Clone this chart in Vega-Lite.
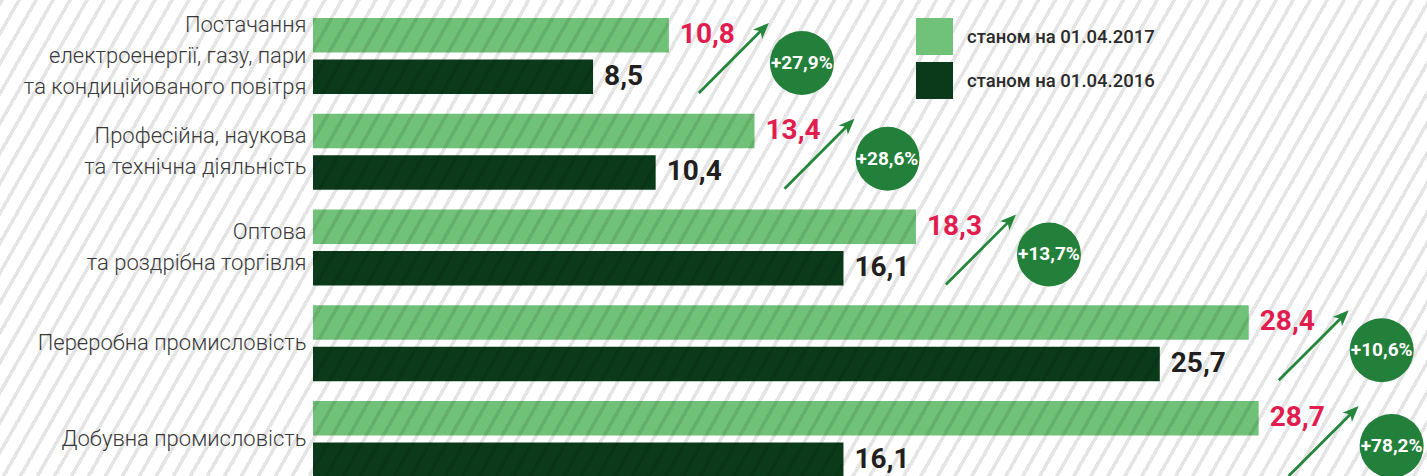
{
  "$schema": "https://vega.github.io/schema/vega-lite/v6.json",
  "width": 1427,
  "height": 479,
  "autosize": "none",
  "padding": 0,
  "background": "#ffffff",
  "config": {
    "view": {"stroke": null},
    "locale": {"number": {"decimal": ",", "thousands": " ", "grouping": [3], "currency": ["", ""]}}
  },
  "datasets": {
    "bars": [
      {"category": "Постачання\nелектроенергії, газу, пари\nта кондиційованого повітря", "series": "станом на 01.04.2017", "value": 10.8},
      {"category": "Постачання\nелектроенергії, газу, пари\nта кондиційованого повітря", "series": "станом на 01.04.2016", "value": 8.5},
      {"category": "Професійна, наукова\nта технічна діяльність", "series": "станом на 01.04.2017", "value": 13.4},
      {"category": "Професійна, наукова\nта технічна діяльність", "series": "станом на 01.04.2016", "value": 10.4},
      {"category": "Оптова\nта роздрібна торгівля", "series": "станом на 01.04.2017", "value": 18.3},
      {"category": "Оптова\nта роздрібна торгівля", "series": "станом на 01.04.2016", "value": 16.1},
      {"category": "Переробна промисловість", "series": "станом на 01.04.2017", "value": 28.4},
      {"category": "Переробна промисловість", "series": "станом на 01.04.2016", "value": 25.7},
      {"category": "Добувна промисловість", "series": "станом на 01.04.2017", "value": 28.7},
      {"category": "Добувна промисловість", "series": "станом на 01.04.2016", "value": 16.1}
    ],
    "changes": [
      {"category": "Постачання\nелектроенергії, газу, пари\nта кондиційованого повітря", "v2017": 10.8, "change": 0.279},
      {"category": "Професійна, наукова\nта технічна діяльність", "v2017": 13.4, "change": 0.286},
      {"category": "Оптова\nта роздрібна торгівля", "v2017": 18.3, "change": 0.137},
      {"category": "Переробна промисловість", "v2017": 28.4, "change": 0.106},
      {"category": "Добувна промисловість", "v2017": 28.7, "change": 0.782}
    ]
  },
  "layer": [
    {
      "data": {"name": "bars"},
      "mark": {"type": "bar"},
      "encoding": {
        "y": {
          "field": "category", "type": "nominal", "sort": null,
          "scale": {
            "domain": ["Постачання\nелектроенергії, газу, пари\nта кондиційованого повітря", "Професійна, наукова\nта технічна діяльність", "Оптова\nта роздрібна торгівля", "Переробна промисловість", "Добувна промисловість"],
            "paddingInner": 0.206, "paddingOuter": 0.104, "align": 0.9
          },
          "axis": {
            "title": null, "ticks": false, "domain": false, "grid": false, "offset": -306, "labelPadding": 0,
            "labelExpr": "split(datum.label, '\\n')",
            "labelOffset": {"condition": [{"test": "length(split(datum.value, '\\n')) === 3", "value": -31}, {"test": "length(split(datum.value, '\\n')) === 2", "value": -15.5}], "value": 0},
            "labelFont": "Roboto", "labelFontWeight": 300, "labelFontSize": 22, "labelColor": "#3a3a3a",
            "labelLineHeight": 31, "labelLimit": 400, "labelAlign": "right", "labelBaseline": "middle"
          }
        },
        "yOffset": {
          "field": "series", "type": "nominal", "sort": null,
          "scale": {"domain": ["станом на 01.04.2017", "станом на 01.04.2016"], "paddingInner": 0.17, "paddingOuter": 0}
        },
        "x": {
          "field": "value", "type": "quantitative",
          "scale": {"domain": [0, 33.81], "range": [313, 1427], "nice": false, "zero": true},
          "axis": null
        },
        "color": {
          "field": "series", "type": "nominal",
          "scale": {"domain": ["станом на 01.04.2017", "станом на 01.04.2016"], "range": ["#70c278", "#0b3a1b"]},
          "legend": {
            "title": null, "orient": "none", "legendX": 916, "legendY": 18, "padding": 0,
            "symbolType": "square", "symbolSize": 1369, "symbolStrokeWidth": 0, "symbolOpacity": 1,
            "labelFont": "Roboto", "labelFontSize": 18.5, "labelFontWeight": 500, "labelColor": "#2b2b2b", "labelOffset": 14,
            "rowPadding": 7, "labelLimit": 400
          }
        }
      }
    },
    {
      "data": {"values": [{}]},
      "mark": {
        "type": "rect",
        "fill": {
          "gradient": "linear", "x1": 0, "y1": 0, "x2": 1.1488, "y2": 0.219,
          "stops": [
{"offset":0,"color":"rgba(0,0,0,0.1)"},{"offset":0.0024,"color":"rgba(0,0,0,0.1)"},{"offset":0.0024,"color":"rgba(0,0,0,0)"},{"offset":0.01,"color":"rgba(0,0,0,0)"},
{"offset":0.01,"color":"rgba(0,0,0,0.1)"},{"offset":0.0124,"color":"rgba(0,0,0,0.1)"},{"offset":0.0124,"color":"rgba(0,0,0,0)"},{"offset":0.02,"color":"rgba(0,0,0,0)"},
{"offset":0.02,"color":"rgba(0,0,0,0.1)"},{"offset":0.0224,"color":"rgba(0,0,0,0.1)"},{"offset":0.0224,"color":"rgba(0,0,0,0)"},{"offset":0.03,"color":"rgba(0,0,0,0)"},
{"offset":0.03,"color":"rgba(0,0,0,0.1)"},{"offset":0.0324,"color":"rgba(0,0,0,0.1)"},{"offset":0.0324,"color":"rgba(0,0,0,0)"},{"offset":0.04,"color":"rgba(0,0,0,0)"},
{"offset":0.04,"color":"rgba(0,0,0,0.1)"},{"offset":0.0424,"color":"rgba(0,0,0,0.1)"},{"offset":0.0424,"color":"rgba(0,0,0,0)"},{"offset":0.05,"color":"rgba(0,0,0,0)"},
{"offset":0.05,"color":"rgba(0,0,0,0.1)"},{"offset":0.0524,"color":"rgba(0,0,0,0.1)"},{"offset":0.0524,"color":"rgba(0,0,0,0)"},{"offset":0.06,"color":"rgba(0,0,0,0)"},
{"offset":0.06,"color":"rgba(0,0,0,0.1)"},{"offset":0.0624,"color":"rgba(0,0,0,0.1)"},{"offset":0.0624,"color":"rgba(0,0,0,0)"},{"offset":0.07,"color":"rgba(0,0,0,0)"},
{"offset":0.07,"color":"rgba(0,0,0,0.1)"},{"offset":0.0724,"color":"rgba(0,0,0,0.1)"},{"offset":0.0724,"color":"rgba(0,0,0,0)"},{"offset":0.08,"color":"rgba(0,0,0,0)"},
{"offset":0.08,"color":"rgba(0,0,0,0.1)"},{"offset":0.0824,"color":"rgba(0,0,0,0.1)"},{"offset":0.0824,"color":"rgba(0,0,0,0)"},{"offset":0.09,"color":"rgba(0,0,0,0)"},
{"offset":0.09,"color":"rgba(0,0,0,0.1)"},{"offset":0.0924,"color":"rgba(0,0,0,0.1)"},{"offset":0.0924,"color":"rgba(0,0,0,0)"},{"offset":0.10,"color":"rgba(0,0,0,0)"},
{"offset":0.10,"color":"rgba(0,0,0,0.1)"},{"offset":0.1024,"color":"rgba(0,0,0,0.1)"},{"offset":0.1024,"color":"rgba(0,0,0,0)"},{"offset":0.11,"color":"rgba(0,0,0,0)"},
{"offset":0.11,"color":"rgba(0,0,0,0.1)"},{"offset":0.1124,"color":"rgba(0,0,0,0.1)"},{"offset":0.1124,"color":"rgba(0,0,0,0)"},{"offset":0.12,"color":"rgba(0,0,0,0)"},
{"offset":0.12,"color":"rgba(0,0,0,0.1)"},{"offset":0.1224,"color":"rgba(0,0,0,0.1)"},{"offset":0.1224,"color":"rgba(0,0,0,0)"},{"offset":0.13,"color":"rgba(0,0,0,0)"},
{"offset":0.13,"color":"rgba(0,0,0,0.1)"},{"offset":0.1324,"color":"rgba(0,0,0,0.1)"},{"offset":0.1324,"color":"rgba(0,0,0,0)"},{"offset":0.14,"color":"rgba(0,0,0,0)"},
{"offset":0.14,"color":"rgba(0,0,0,0.1)"},{"offset":0.1424,"color":"rgba(0,0,0,0.1)"},{"offset":0.1424,"color":"rgba(0,0,0,0)"},{"offset":0.15,"color":"rgba(0,0,0,0)"},
{"offset":0.15,"color":"rgba(0,0,0,0.1)"},{"offset":0.1524,"color":"rgba(0,0,0,0.1)"},{"offset":0.1524,"color":"rgba(0,0,0,0)"},{"offset":0.16,"color":"rgba(0,0,0,0)"},
{"offset":0.16,"color":"rgba(0,0,0,0.1)"},{"offset":0.1624,"color":"rgba(0,0,0,0.1)"},{"offset":0.1624,"color":"rgba(0,0,0,0)"},{"offset":0.17,"color":"rgba(0,0,0,0)"},
{"offset":0.17,"color":"rgba(0,0,0,0.1)"},{"offset":0.1724,"color":"rgba(0,0,0,0.1)"},{"offset":0.1724,"color":"rgba(0,0,0,0)"},{"offset":0.18,"color":"rgba(0,0,0,0)"},
{"offset":0.18,"color":"rgba(0,0,0,0.1)"},{"offset":0.1824,"color":"rgba(0,0,0,0.1)"},{"offset":0.1824,"color":"rgba(0,0,0,0)"},{"offset":0.19,"color":"rgba(0,0,0,0)"},
{"offset":0.19,"color":"rgba(0,0,0,0.1)"},{"offset":0.1924,"color":"rgba(0,0,0,0.1)"},{"offset":0.1924,"color":"rgba(0,0,0,0)"},{"offset":0.20,"color":"rgba(0,0,0,0)"},
{"offset":0.20,"color":"rgba(0,0,0,0.1)"},{"offset":0.2024,"color":"rgba(0,0,0,0.1)"},{"offset":0.2024,"color":"rgba(0,0,0,0)"},{"offset":0.21,"color":"rgba(0,0,0,0)"},
{"offset":0.21,"color":"rgba(0,0,0,0.1)"},{"offset":0.2124,"color":"rgba(0,0,0,0.1)"},{"offset":0.2124,"color":"rgba(0,0,0,0)"},{"offset":0.22,"color":"rgba(0,0,0,0)"},
{"offset":0.22,"color":"rgba(0,0,0,0.1)"},{"offset":0.2224,"color":"rgba(0,0,0,0.1)"},{"offset":0.2224,"color":"rgba(0,0,0,0)"},{"offset":0.23,"color":"rgba(0,0,0,0)"},
{"offset":0.23,"color":"rgba(0,0,0,0.1)"},{"offset":0.2324,"color":"rgba(0,0,0,0.1)"},{"offset":0.2324,"color":"rgba(0,0,0,0)"},{"offset":0.24,"color":"rgba(0,0,0,0)"},
{"offset":0.24,"color":"rgba(0,0,0,0.1)"},{"offset":0.2424,"color":"rgba(0,0,0,0.1)"},{"offset":0.2424,"color":"rgba(0,0,0,0)"},{"offset":0.25,"color":"rgba(0,0,0,0)"},
{"offset":0.25,"color":"rgba(0,0,0,0.1)"},{"offset":0.2524,"color":"rgba(0,0,0,0.1)"},{"offset":0.2524,"color":"rgba(0,0,0,0)"},{"offset":0.26,"color":"rgba(0,0,0,0)"},
{"offset":0.26,"color":"rgba(0,0,0,0.1)"},{"offset":0.2624,"color":"rgba(0,0,0,0.1)"},{"offset":0.2624,"color":"rgba(0,0,0,0)"},{"offset":0.27,"color":"rgba(0,0,0,0)"},
{"offset":0.27,"color":"rgba(0,0,0,0.1)"},{"offset":0.2724,"color":"rgba(0,0,0,0.1)"},{"offset":0.2724,"color":"rgba(0,0,0,0)"},{"offset":0.28,"color":"rgba(0,0,0,0)"},
{"offset":0.28,"color":"rgba(0,0,0,0.1)"},{"offset":0.2824,"color":"rgba(0,0,0,0.1)"},{"offset":0.2824,"color":"rgba(0,0,0,0)"},{"offset":0.29,"color":"rgba(0,0,0,0)"},
{"offset":0.29,"color":"rgba(0,0,0,0.1)"},{"offset":0.2924,"color":"rgba(0,0,0,0.1)"},{"offset":0.2924,"color":"rgba(0,0,0,0)"},{"offset":0.30,"color":"rgba(0,0,0,0)"},
{"offset":0.30,"color":"rgba(0,0,0,0.1)"},{"offset":0.3024,"color":"rgba(0,0,0,0.1)"},{"offset":0.3024,"color":"rgba(0,0,0,0)"},{"offset":0.31,"color":"rgba(0,0,0,0)"},
{"offset":0.31,"color":"rgba(0,0,0,0.1)"},{"offset":0.3124,"color":"rgba(0,0,0,0.1)"},{"offset":0.3124,"color":"rgba(0,0,0,0)"},{"offset":0.32,"color":"rgba(0,0,0,0)"},
{"offset":0.32,"color":"rgba(0,0,0,0.1)"},{"offset":0.3224,"color":"rgba(0,0,0,0.1)"},{"offset":0.3224,"color":"rgba(0,0,0,0)"},{"offset":0.33,"color":"rgba(0,0,0,0)"},
{"offset":0.33,"color":"rgba(0,0,0,0.1)"},{"offset":0.3324,"color":"rgba(0,0,0,0.1)"},{"offset":0.3324,"color":"rgba(0,0,0,0)"},{"offset":0.34,"color":"rgba(0,0,0,0)"},
{"offset":0.34,"color":"rgba(0,0,0,0.1)"},{"offset":0.3424,"color":"rgba(0,0,0,0.1)"},{"offset":0.3424,"color":"rgba(0,0,0,0)"},{"offset":0.35,"color":"rgba(0,0,0,0)"},
{"offset":0.35,"color":"rgba(0,0,0,0.1)"},{"offset":0.3524,"color":"rgba(0,0,0,0.1)"},{"offset":0.3524,"color":"rgba(0,0,0,0)"},{"offset":0.36,"color":"rgba(0,0,0,0)"},
{"offset":0.36,"color":"rgba(0,0,0,0.1)"},{"offset":0.3624,"color":"rgba(0,0,0,0.1)"},{"offset":0.3624,"color":"rgba(0,0,0,0)"},{"offset":0.37,"color":"rgba(0,0,0,0)"},
{"offset":0.37,"color":"rgba(0,0,0,0.1)"},{"offset":0.3724,"color":"rgba(0,0,0,0.1)"},{"offset":0.3724,"color":"rgba(0,0,0,0)"},{"offset":0.38,"color":"rgba(0,0,0,0)"},
{"offset":0.38,"color":"rgba(0,0,0,0.1)"},{"offset":0.3824,"color":"rgba(0,0,0,0.1)"},{"offset":0.3824,"color":"rgba(0,0,0,0)"},{"offset":0.39,"color":"rgba(0,0,0,0)"},
{"offset":0.39,"color":"rgba(0,0,0,0.1)"},{"offset":0.3924,"color":"rgba(0,0,0,0.1)"},{"offset":0.3924,"color":"rgba(0,0,0,0)"},{"offset":0.40,"color":"rgba(0,0,0,0)"},
{"offset":0.40,"color":"rgba(0,0,0,0.1)"},{"offset":0.4024,"color":"rgba(0,0,0,0.1)"},{"offset":0.4024,"color":"rgba(0,0,0,0)"},{"offset":0.41,"color":"rgba(0,0,0,0)"},
{"offset":0.41,"color":"rgba(0,0,0,0.1)"},{"offset":0.4124,"color":"rgba(0,0,0,0.1)"},{"offset":0.4124,"color":"rgba(0,0,0,0)"},{"offset":0.42,"color":"rgba(0,0,0,0)"},
{"offset":0.42,"color":"rgba(0,0,0,0.1)"},{"offset":0.4224,"color":"rgba(0,0,0,0.1)"},{"offset":0.4224,"color":"rgba(0,0,0,0)"},{"offset":0.43,"color":"rgba(0,0,0,0)"},
{"offset":0.43,"color":"rgba(0,0,0,0.1)"},{"offset":0.4324,"color":"rgba(0,0,0,0.1)"},{"offset":0.4324,"color":"rgba(0,0,0,0)"},{"offset":0.44,"color":"rgba(0,0,0,0)"},
{"offset":0.44,"color":"rgba(0,0,0,0.1)"},{"offset":0.4424,"color":"rgba(0,0,0,0.1)"},{"offset":0.4424,"color":"rgba(0,0,0,0)"},{"offset":0.45,"color":"rgba(0,0,0,0)"},
{"offset":0.45,"color":"rgba(0,0,0,0.1)"},{"offset":0.4524,"color":"rgba(0,0,0,0.1)"},{"offset":0.4524,"color":"rgba(0,0,0,0)"},{"offset":0.46,"color":"rgba(0,0,0,0)"},
{"offset":0.46,"color":"rgba(0,0,0,0.1)"},{"offset":0.4624,"color":"rgba(0,0,0,0.1)"},{"offset":0.4624,"color":"rgba(0,0,0,0)"},{"offset":0.47,"color":"rgba(0,0,0,0)"},
{"offset":0.47,"color":"rgba(0,0,0,0.1)"},{"offset":0.4724,"color":"rgba(0,0,0,0.1)"},{"offset":0.4724,"color":"rgba(0,0,0,0)"},{"offset":0.48,"color":"rgba(0,0,0,0)"},
{"offset":0.48,"color":"rgba(0,0,0,0.1)"},{"offset":0.4824,"color":"rgba(0,0,0,0.1)"},{"offset":0.4824,"color":"rgba(0,0,0,0)"},{"offset":0.49,"color":"rgba(0,0,0,0)"},
{"offset":0.49,"color":"rgba(0,0,0,0.1)"},{"offset":0.4924,"color":"rgba(0,0,0,0.1)"},{"offset":0.4924,"color":"rgba(0,0,0,0)"},{"offset":0.50,"color":"rgba(0,0,0,0)"},
{"offset":0.50,"color":"rgba(0,0,0,0.1)"},{"offset":0.5024,"color":"rgba(0,0,0,0.1)"},{"offset":0.5024,"color":"rgba(0,0,0,0)"},{"offset":0.51,"color":"rgba(0,0,0,0)"},
{"offset":0.51,"color":"rgba(0,0,0,0.1)"},{"offset":0.5124,"color":"rgba(0,0,0,0.1)"},{"offset":0.5124,"color":"rgba(0,0,0,0)"},{"offset":0.52,"color":"rgba(0,0,0,0)"},
{"offset":0.52,"color":"rgba(0,0,0,0.1)"},{"offset":0.5224,"color":"rgba(0,0,0,0.1)"},{"offset":0.5224,"color":"rgba(0,0,0,0)"},{"offset":0.53,"color":"rgba(0,0,0,0)"},
{"offset":0.53,"color":"rgba(0,0,0,0.1)"},{"offset":0.5324,"color":"rgba(0,0,0,0.1)"},{"offset":0.5324,"color":"rgba(0,0,0,0)"},{"offset":0.54,"color":"rgba(0,0,0,0)"},
{"offset":0.54,"color":"rgba(0,0,0,0.1)"},{"offset":0.5424,"color":"rgba(0,0,0,0.1)"},{"offset":0.5424,"color":"rgba(0,0,0,0)"},{"offset":0.55,"color":"rgba(0,0,0,0)"},
{"offset":0.55,"color":"rgba(0,0,0,0.1)"},{"offset":0.5524,"color":"rgba(0,0,0,0.1)"},{"offset":0.5524,"color":"rgba(0,0,0,0)"},{"offset":0.56,"color":"rgba(0,0,0,0)"},
{"offset":0.56,"color":"rgba(0,0,0,0.1)"},{"offset":0.5624,"color":"rgba(0,0,0,0.1)"},{"offset":0.5624,"color":"rgba(0,0,0,0)"},{"offset":0.57,"color":"rgba(0,0,0,0)"},
{"offset":0.57,"color":"rgba(0,0,0,0.1)"},{"offset":0.5724,"color":"rgba(0,0,0,0.1)"},{"offset":0.5724,"color":"rgba(0,0,0,0)"},{"offset":0.58,"color":"rgba(0,0,0,0)"},
{"offset":0.58,"color":"rgba(0,0,0,0.1)"},{"offset":0.5824,"color":"rgba(0,0,0,0.1)"},{"offset":0.5824,"color":"rgba(0,0,0,0)"},{"offset":0.59,"color":"rgba(0,0,0,0)"},
{"offset":0.59,"color":"rgba(0,0,0,0.1)"},{"offset":0.5924,"color":"rgba(0,0,0,0.1)"},{"offset":0.5924,"color":"rgba(0,0,0,0)"},{"offset":0.60,"color":"rgba(0,0,0,0)"},
{"offset":0.60,"color":"rgba(0,0,0,0.1)"},{"offset":0.6024,"color":"rgba(0,0,0,0.1)"},{"offset":0.6024,"color":"rgba(0,0,0,0)"},{"offset":0.61,"color":"rgba(0,0,0,0)"},
{"offset":0.61,"color":"rgba(0,0,0,0.1)"},{"offset":0.6124,"color":"rgba(0,0,0,0.1)"},{"offset":0.6124,"color":"rgba(0,0,0,0)"},{"offset":0.62,"color":"rgba(0,0,0,0)"},
{"offset":0.62,"color":"rgba(0,0,0,0.1)"},{"offset":0.6224,"color":"rgba(0,0,0,0.1)"},{"offset":0.6224,"color":"rgba(0,0,0,0)"},{"offset":0.63,"color":"rgba(0,0,0,0)"},
{"offset":0.63,"color":"rgba(0,0,0,0.1)"},{"offset":0.6324,"color":"rgba(0,0,0,0.1)"},{"offset":0.6324,"color":"rgba(0,0,0,0)"},{"offset":0.64,"color":"rgba(0,0,0,0)"},
{"offset":0.64,"color":"rgba(0,0,0,0.1)"},{"offset":0.6424,"color":"rgba(0,0,0,0.1)"},{"offset":0.6424,"color":"rgba(0,0,0,0)"},{"offset":0.65,"color":"rgba(0,0,0,0)"},
{"offset":0.65,"color":"rgba(0,0,0,0.1)"},{"offset":0.6524,"color":"rgba(0,0,0,0.1)"},{"offset":0.6524,"color":"rgba(0,0,0,0)"},{"offset":0.66,"color":"rgba(0,0,0,0)"},
{"offset":0.66,"color":"rgba(0,0,0,0.1)"},{"offset":0.6624,"color":"rgba(0,0,0,0.1)"},{"offset":0.6624,"color":"rgba(0,0,0,0)"},{"offset":0.67,"color":"rgba(0,0,0,0)"},
{"offset":0.67,"color":"rgba(0,0,0,0.1)"},{"offset":0.6724,"color":"rgba(0,0,0,0.1)"},{"offset":0.6724,"color":"rgba(0,0,0,0)"},{"offset":0.68,"color":"rgba(0,0,0,0)"},
{"offset":0.68,"color":"rgba(0,0,0,0.1)"},{"offset":0.6824,"color":"rgba(0,0,0,0.1)"},{"offset":0.6824,"color":"rgba(0,0,0,0)"},{"offset":0.69,"color":"rgba(0,0,0,0)"},
{"offset":0.69,"color":"rgba(0,0,0,0.1)"},{"offset":0.6924,"color":"rgba(0,0,0,0.1)"},{"offset":0.6924,"color":"rgba(0,0,0,0)"},{"offset":0.70,"color":"rgba(0,0,0,0)"},
{"offset":0.70,"color":"rgba(0,0,0,0.1)"},{"offset":0.7024,"color":"rgba(0,0,0,0.1)"},{"offset":0.7024,"color":"rgba(0,0,0,0)"},{"offset":0.71,"color":"rgba(0,0,0,0)"},
{"offset":0.71,"color":"rgba(0,0,0,0.1)"},{"offset":0.7124,"color":"rgba(0,0,0,0.1)"},{"offset":0.7124,"color":"rgba(0,0,0,0)"},{"offset":0.72,"color":"rgba(0,0,0,0)"},
{"offset":0.72,"color":"rgba(0,0,0,0.1)"},{"offset":0.7224,"color":"rgba(0,0,0,0.1)"},{"offset":0.7224,"color":"rgba(0,0,0,0)"},{"offset":0.73,"color":"rgba(0,0,0,0)"},
{"offset":0.73,"color":"rgba(0,0,0,0.1)"},{"offset":0.7324,"color":"rgba(0,0,0,0.1)"},{"offset":0.7324,"color":"rgba(0,0,0,0)"},{"offset":0.74,"color":"rgba(0,0,0,0)"},
{"offset":0.74,"color":"rgba(0,0,0,0.1)"},{"offset":0.7424,"color":"rgba(0,0,0,0.1)"},{"offset":0.7424,"color":"rgba(0,0,0,0)"},{"offset":0.75,"color":"rgba(0,0,0,0)"},
{"offset":0.75,"color":"rgba(0,0,0,0.1)"},{"offset":0.7524,"color":"rgba(0,0,0,0.1)"},{"offset":0.7524,"color":"rgba(0,0,0,0)"},{"offset":0.76,"color":"rgba(0,0,0,0)"},
{"offset":0.76,"color":"rgba(0,0,0,0.1)"},{"offset":0.7624,"color":"rgba(0,0,0,0.1)"},{"offset":0.7624,"color":"rgba(0,0,0,0)"},{"offset":0.77,"color":"rgba(0,0,0,0)"},
{"offset":0.77,"color":"rgba(0,0,0,0.1)"},{"offset":0.7724,"color":"rgba(0,0,0,0.1)"},{"offset":0.7724,"color":"rgba(0,0,0,0)"},{"offset":0.78,"color":"rgba(0,0,0,0)"},
{"offset":0.78,"color":"rgba(0,0,0,0.1)"},{"offset":0.7824,"color":"rgba(0,0,0,0.1)"},{"offset":0.7824,"color":"rgba(0,0,0,0)"},{"offset":0.79,"color":"rgba(0,0,0,0)"},
{"offset":0.79,"color":"rgba(0,0,0,0.1)"},{"offset":0.7924,"color":"rgba(0,0,0,0.1)"},{"offset":0.7924,"color":"rgba(0,0,0,0)"},{"offset":0.80,"color":"rgba(0,0,0,0)"},
{"offset":0.80,"color":"rgba(0,0,0,0.1)"},{"offset":0.8024,"color":"rgba(0,0,0,0.1)"},{"offset":0.8024,"color":"rgba(0,0,0,0)"},{"offset":0.81,"color":"rgba(0,0,0,0)"},
{"offset":0.81,"color":"rgba(0,0,0,0.1)"},{"offset":0.8124,"color":"rgba(0,0,0,0.1)"},{"offset":0.8124,"color":"rgba(0,0,0,0)"},{"offset":0.82,"color":"rgba(0,0,0,0)"},
{"offset":0.82,"color":"rgba(0,0,0,0.1)"},{"offset":0.8224,"color":"rgba(0,0,0,0.1)"},{"offset":0.8224,"color":"rgba(0,0,0,0)"},{"offset":0.83,"color":"rgba(0,0,0,0)"},
{"offset":0.83,"color":"rgba(0,0,0,0.1)"},{"offset":0.8324,"color":"rgba(0,0,0,0.1)"},{"offset":0.8324,"color":"rgba(0,0,0,0)"},{"offset":0.84,"color":"rgba(0,0,0,0)"},
{"offset":0.84,"color":"rgba(0,0,0,0.1)"},{"offset":0.8424,"color":"rgba(0,0,0,0.1)"},{"offset":0.8424,"color":"rgba(0,0,0,0)"},{"offset":0.85,"color":"rgba(0,0,0,0)"},
{"offset":0.85,"color":"rgba(0,0,0,0.1)"},{"offset":0.8524,"color":"rgba(0,0,0,0.1)"},{"offset":0.8524,"color":"rgba(0,0,0,0)"},{"offset":0.86,"color":"rgba(0,0,0,0)"},
{"offset":0.86,"color":"rgba(0,0,0,0.1)"},{"offset":0.8624,"color":"rgba(0,0,0,0.1)"},{"offset":0.8624,"color":"rgba(0,0,0,0)"},{"offset":0.87,"color":"rgba(0,0,0,0)"},
{"offset":0.87,"color":"rgba(0,0,0,0.1)"},{"offset":0.8724,"color":"rgba(0,0,0,0.1)"},{"offset":0.8724,"color":"rgba(0,0,0,0)"},{"offset":0.88,"color":"rgba(0,0,0,0)"},
{"offset":0.88,"color":"rgba(0,0,0,0.1)"},{"offset":0.8824,"color":"rgba(0,0,0,0.1)"},{"offset":0.8824,"color":"rgba(0,0,0,0)"},{"offset":0.89,"color":"rgba(0,0,0,0)"},
{"offset":0.89,"color":"rgba(0,0,0,0.1)"},{"offset":0.8924,"color":"rgba(0,0,0,0.1)"},{"offset":0.8924,"color":"rgba(0,0,0,0)"},{"offset":0.90,"color":"rgba(0,0,0,0)"},
{"offset":0.90,"color":"rgba(0,0,0,0.1)"},{"offset":0.9024,"color":"rgba(0,0,0,0.1)"},{"offset":0.9024,"color":"rgba(0,0,0,0)"},{"offset":0.91,"color":"rgba(0,0,0,0)"},
{"offset":0.91,"color":"rgba(0,0,0,0.1)"},{"offset":0.9124,"color":"rgba(0,0,0,0.1)"},{"offset":0.9124,"color":"rgba(0,0,0,0)"},{"offset":0.92,"color":"rgba(0,0,0,0)"},
{"offset":0.92,"color":"rgba(0,0,0,0.1)"},{"offset":0.9224,"color":"rgba(0,0,0,0.1)"},{"offset":0.9224,"color":"rgba(0,0,0,0)"},{"offset":0.93,"color":"rgba(0,0,0,0)"},
{"offset":0.93,"color":"rgba(0,0,0,0.1)"},{"offset":0.9324,"color":"rgba(0,0,0,0.1)"},{"offset":0.9324,"color":"rgba(0,0,0,0)"},{"offset":0.94,"color":"rgba(0,0,0,0)"},
{"offset":0.94,"color":"rgba(0,0,0,0.1)"},{"offset":0.9424,"color":"rgba(0,0,0,0.1)"},{"offset":0.9424,"color":"rgba(0,0,0,0)"},{"offset":0.95,"color":"rgba(0,0,0,0)"},
{"offset":0.95,"color":"rgba(0,0,0,0.1)"},{"offset":0.9524,"color":"rgba(0,0,0,0.1)"},{"offset":0.9524,"color":"rgba(0,0,0,0)"},{"offset":0.96,"color":"rgba(0,0,0,0)"},
{"offset":0.96,"color":"rgba(0,0,0,0.1)"},{"offset":0.9624,"color":"rgba(0,0,0,0.1)"},{"offset":0.9624,"color":"rgba(0,0,0,0)"},{"offset":0.97,"color":"rgba(0,0,0,0)"},
{"offset":0.97,"color":"rgba(0,0,0,0.1)"},{"offset":0.9724,"color":"rgba(0,0,0,0.1)"},{"offset":0.9724,"color":"rgba(0,0,0,0)"},{"offset":0.98,"color":"rgba(0,0,0,0)"},
{"offset":0.98,"color":"rgba(0,0,0,0.1)"},{"offset":0.9824,"color":"rgba(0,0,0,0.1)"},{"offset":0.9824,"color":"rgba(0,0,0,0)"},{"offset":0.99,"color":"rgba(0,0,0,0)"},
{"offset":0.99,"color":"rgba(0,0,0,0.1)"},{"offset":0.9924,"color":"rgba(0,0,0,0.1)"},{"offset":0.9924,"color":"rgba(0,0,0,0)"},{"offset":1,"color":"rgba(0,0,0,0)"}
          ]
        }
      },
      "encoding": {}
    },
    {
      "data": {"name": "bars"},
      "mark": {"type": "text", "align": "left", "baseline": "middle", "dx": 11, "font": "Roboto", "fontWeight": "bold", "fontSize": 28},
      "encoding": {
        "y": {
          "field": "category", "type": "nominal", "sort": null,
          "axis": {
            "title": null, "ticks": false, "domain": false, "grid": false, "offset": -306, "labelPadding": 0,
            "labelExpr": "split(datum.label, '\\n')",
            "labelOffset": {"condition": [{"test": "length(split(datum.value, '\\n')) === 3", "value": -31}, {"test": "length(split(datum.value, '\\n')) === 2", "value": -15.5}], "value": 0},
            "labelFont": "Roboto", "labelFontWeight": 300, "labelFontSize": 22, "labelColor": "#3a3a3a",
            "labelLineHeight": 31, "labelLimit": 400, "labelAlign": "right", "labelBaseline": "middle"
          }
        },
        "yOffset": {"field": "series", "type": "nominal", "sort": null},
        "x": {"field": "value", "type": "quantitative", "axis": null},
        "text": {"field": "value", "type": "quantitative", "format": ".1f"},
        "color": {"condition": {"test": "datum.series === 'станом на 01.04.2017'", "value": "#e11d4f"}, "value": "#231f20"}
      }
    },
    {
      "data": {"name": "changes"},
      "mark": {
        "type": "point",
        "shape": "M-0.972,1.028L0.774,-0.717L0.809,-0.540L1,-1L0.540,-0.809L0.717,-0.774L-1.028,0.972Z",
        "size": 4900, "filled": true, "fill": "#24873b", "strokeWidth": 0, "opacity": 1,
        "xOffset": 65, "yOffset": 2
      },
      "encoding": {
        "x": {"field": "v2017", "type": "quantitative", "axis": null},
        "y": {
          "field": "category", "type": "nominal", "sort": null,
          "axis": {
            "title": null, "ticks": false, "domain": false, "grid": false, "offset": -306, "labelPadding": 0,
            "labelExpr": "split(datum.label, '\\n')",
            "labelOffset": {"condition": [{"test": "length(split(datum.value, '\\n')) === 3", "value": -31}, {"test": "length(split(datum.value, '\\n')) === 2", "value": -15.5}], "value": 0},
            "labelFont": "Roboto", "labelFontWeight": 300, "labelFontSize": 22, "labelColor": "#3a3a3a",
            "labelLineHeight": 31, "labelLimit": 400, "labelAlign": "right", "labelBaseline": "middle"
          }
        }
      }
    },
    {
      "data": {"name": "changes"},
      "mark": {"type": "point", "shape": "circle", "size": 4096, "filled": true, "fill": "#23803a", "strokeWidth": 0, "opacity": 1, "xOffset": 133, "yOffset": 7},
      "encoding": {
        "x": {"field": "v2017", "type": "quantitative", "axis": null},
        "y": {
          "field": "category", "type": "nominal", "sort": null,
          "axis": {
            "title": null, "ticks": false, "domain": false, "grid": false, "offset": -306, "labelPadding": 0,
            "labelExpr": "split(datum.label, '\\n')",
            "labelOffset": {"condition": [{"test": "length(split(datum.value, '\\n')) === 3", "value": -31}, {"test": "length(split(datum.value, '\\n')) === 2", "value": -15.5}], "value": 0},
            "labelFont": "Roboto", "labelFontWeight": 300, "labelFontSize": 22, "labelColor": "#3a3a3a",
            "labelLineHeight": 31, "labelLimit": 400, "labelAlign": "right", "labelBaseline": "middle"
          }
        }
      }
    },
    {
      "data": {"name": "changes"},
      "mark": {"type": "text", "align": "center", "baseline": "middle", "font": "Roboto", "fontWeight": "bold", "fontSize": 19, "fill": "#ffffff", "xOffset": 133, "yOffset": 7},
      "encoding": {
        "x": {"field": "v2017", "type": "quantitative", "axis": null},
        "y": {
          "field": "category", "type": "nominal", "sort": null,
          "axis": {
            "title": null, "ticks": false, "domain": false, "grid": false, "offset": -306, "labelPadding": 0,
            "labelExpr": "split(datum.label, '\\n')",
            "labelOffset": {"condition": [{"test": "length(split(datum.value, '\\n')) === 3", "value": -31}, {"test": "length(split(datum.value, '\\n')) === 2", "value": -15.5}], "value": 0},
            "labelFont": "Roboto", "labelFontWeight": 300, "labelFontSize": 22, "labelColor": "#3a3a3a",
            "labelLineHeight": 31, "labelLimit": 400, "labelAlign": "right", "labelBaseline": "middle"
          }
        },
        "text": {"field": "change", "type": "quantitative", "format": "+.1%"}
      }
    }
  ]
}
